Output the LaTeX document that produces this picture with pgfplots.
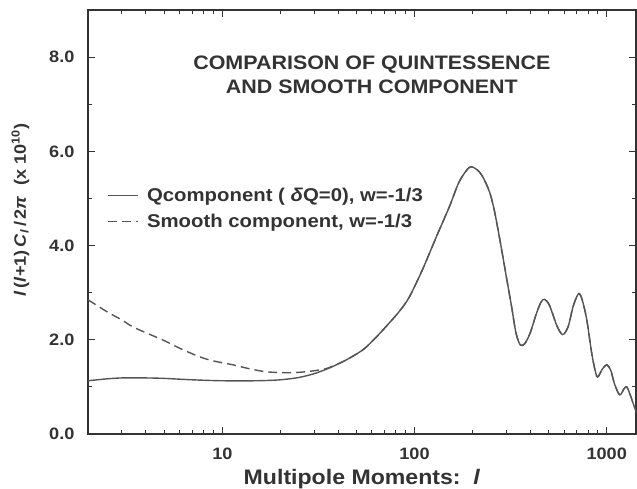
\documentclass[border=0pt]{standalone}
\usepackage{fontspec}
\setmainfont{Liberation Sans}[FakeStretch=1.1]
\usepackage{pgfplots}
\pgfplotsset{compat=1.18}
\definecolor{txt}{HTML}{333333}
\definecolor{ln}{HTML}{555555}
\begin{document}
\begin{tikzpicture}
\useasboundingbox (-88pt,-55pt) rectangle (549pt,434pt);
\begin{axis}[
  scale only axis, width=548pt, height=424pt,
  at={(0pt,0pt)}, anchor=south west,
  xmode=log, xmin=2, xmax=1420, ymin=0, ymax=9,
  xtick={10,100,1000}, xticklabels={10,100,1000},
  minor xtick={2,3,4,5,6,7,8,9,20,30,40,50,60,70,80,90,200,300,400,500,600,700,800,900},
  ytick={0,2,4,6,8}, minor ytick={1,3,5,7},
  tick align=inside,
  major tick length=7pt, minor tick length=4pt,
  axis line style={line width=1.3pt, color=txt},
  tick style={line width=1pt, color=txt},
  /pgf/number format/assume math mode=true,
  ticklabel style={font=\fontsize{16.5}{16.5}\selectfont\bfseries, text=txt},
  yticklabel style={/pgf/number format/fixed, /pgf/number format/fixed zerofill, /pgf/number format/precision=1, xshift=-10pt},
  xticklabel style={yshift=-10pt},
  xlabel={Multipole Moments:\ \ \textit{l}},
  xlabel style={font=\fontsize{21}{21}\selectfont\bfseries, text=txt, yshift=-3pt},
  ylabel={\textit{l}\,(\textit{l}+1)\,\textit{C}\textsubscript{\textit{l}}\,/\,2\textit{π}\ \ (x 10\textsuperscript{10})},
  ylabel style={font=\fontsize{16.5}{16.5}\selectfont\bfseries, text=txt, yshift=13pt, xshift=12pt},
  legend style={draw=none, fill=none, at={(0.03,0.59)}, anchor=north west,
    font=\fontsize{18.5}{18.5}\selectfont\bfseries, text=txt, row sep=7pt},
  legend cell align=left,
  legend image code/.code={\draw[#1] (0pt,0pt) -- (30pt,0pt);},
]
\addplot[ln, line width=1.4pt, smooth] coordinates {
(2,1.13) (2.5,1.17) (3,1.19) (4,1.19) (5,1.18) (7,1.15) (10,1.13) (15,1.13)
(20,1.15) (25,1.20) (30,1.28) (36,1.40) (44,1.57) (54,1.79) (63,2.05) (74,2.36)
(84,2.62) (94,2.91) (110,3.49) (130,4.19) (152,4.83) (171,5.36)
(193,5.66) (210,5.62) (225,5.48) (245,5.15) (260,4.75) (280,4.05)
(300,3.35) (320,2.70) (337,2.15) (355,1.89) (375,1.92) (400,2.15) (430,2.55)
(455,2.80) (475,2.86) (505,2.72) (550,2.30) (590,2.11) (630,2.28) (670,2.72)
(714,2.98) (745,2.85) (787,2.43) (835,1.72) (870,1.35) (897,1.21) (950,1.38)
(1000,1.47) (1050,1.35) (1100,1.05) (1169,0.83) (1230,0.96) (1270,1.00)
(1320,0.85) (1380,0.62) (1432,0.45)
};
\addlegendentry{\hspace{6pt}Qcomponent ( \textit{δ}Q=0), w=-1/3}
\addplot[ln, line width=1.4pt, dash pattern=on 9pt off 5pt, smooth] coordinates {
(2,2.85) (2.5,2.60) (3,2.42) (3.4,2.28) (4,2.15) (5,1.98) (6,1.82) (7.6,1.64)
(9,1.55) (11.3,1.47) (14,1.38) (17,1.32) (22,1.30) (27,1.32) (32,1.36)
(36,1.41) (44,1.57) (54,1.79) (63,2.05) (74,2.36)
(84,2.62) (94,2.91) (110,3.49) (130,4.19) (152,4.83) (171,5.36)
(193,5.66) (210,5.62) (225,5.48) (245,5.15) (260,4.75) (280,4.05)
(300,3.35) (320,2.70) (337,2.15) (355,1.89) (375,1.92) (400,2.15) (430,2.55)
(455,2.80) (475,2.86) (505,2.72) (550,2.30) (590,2.11) (630,2.28) (670,2.72)
(714,2.98) (745,2.85) (787,2.43) (835,1.72) (870,1.35) (897,1.21) (950,1.38)
(1000,1.47) (1050,1.35) (1100,1.05) (1169,0.83) (1230,0.96) (1270,1.00)
(1320,0.85) (1380,0.62) (1432,0.45)
};
\addlegendentry{\hspace{6pt}Smooth component, w=-1/3}
\pgfplotsinvokeforeach{10,100,1000}{
  \draw[txt, line width=1pt] (axis cs:#1,0) -- ++(0pt,7pt);
  \draw[txt, line width=1pt] (axis cs:#1,9) -- ++(0pt,-7pt);}
\pgfplotsinvokeforeach{3,4,5,6,7,8,9,20,30,40,50,60,70,80,90,200,300,400,500,600,700,800,900}{
  \draw[txt, line width=1pt] (axis cs:#1,0) -- ++(0pt,4pt);
  \draw[txt, line width=1pt] (axis cs:#1,9) -- ++(0pt,-4pt);}
\pgfplotsinvokeforeach{2,4,6,8}{
  \draw[txt, line width=1pt] (axis cs:2,#1) -- ++(7pt,0pt);
  \draw[txt, line width=1pt] (axis cs:1420,#1) -- ++(-7pt,0pt);}
\pgfplotsinvokeforeach{1,3,5,7}{
  \draw[txt, line width=1pt] (axis cs:2,#1) -- ++(4pt,0pt);
  \draw[txt, line width=1pt] (axis cs:1420,#1) -- ++(-4pt,0pt);}
\node[font=\fontsize{19.5}{24.5}\selectfont\bfseries, text=txt, align=center]
  at (rel axis cs:0.518,0.847) {COMPARISON OF QUINTESSENCE\\AND SMOOTH COMPONENT};
\end{axis}
\end{tikzpicture}
\end{document}
